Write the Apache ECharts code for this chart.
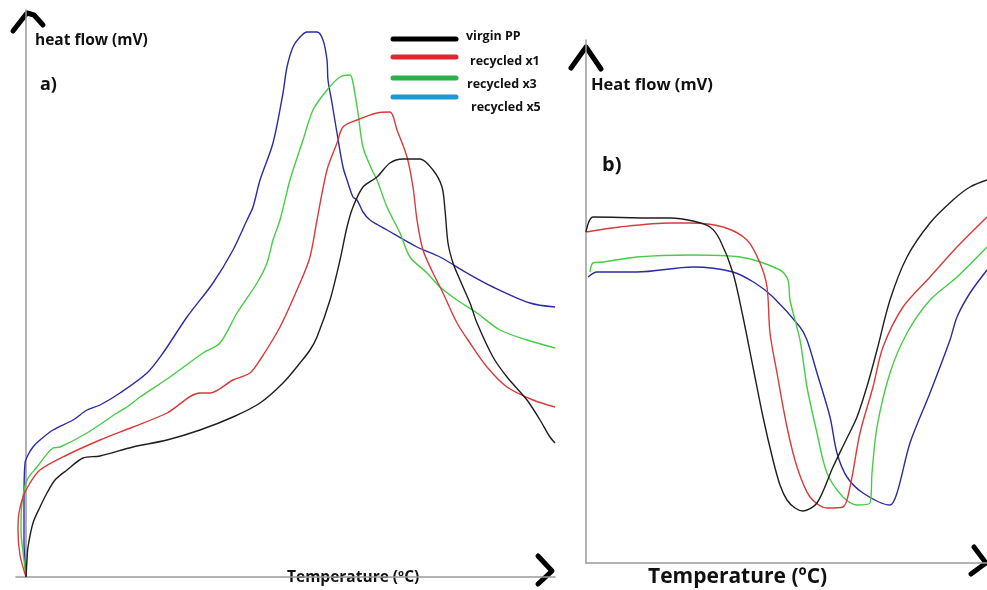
<!DOCTYPE html>
<html>
<head>
<meta charset="utf-8">
<script src="https://cdn.jsdelivr.net/npm/echarts@6/dist/echarts.min.js"></script>
<style>
  html, body { margin: 0; padding: 0; background: #fff; }
  #main { width: 987px; height: 590px; }
</style>
</head>
<body>
<div id="main"></div>
<script>
// DSC curves (arbitrary units, no ticks on the axes)
// a) heating / melting
var seriesNames = ['virgin PP', 'recycled x1', 'recycled x3', 'recycled x5']

var virginA = [[0,0],[1,17],[2,30],[7,54],[14,70],[21,84],[29,97],[41,107],[57,119],[74,121],[107,130],[141,137],[174,147],[207,160],[234,174],[257,194],[274,214],[284,227],[291,240],[304,277],[314,317],[321,350],[327,370],[337,390],[351,400],[364,414],[377,418],[394,418],[407,407],[416,390],[419,367],[422,334],[427,314],[434,297],[444,274],[451,254],[467,220],[481,200],[501,177],[514,157],[524,140],[529,134]]
var rec1A = [[0,0],[-6,22],[-8,47],[-7,64],[-3,80],[4,94],[14,107],[41,122],[74,137],[107,150],[141,164],[174,184],[184,184],[207,197],[224,204],[234,217],[254,250],[274,294],[284,320],[291,357],[301,407],[311,434],[317,450],[331,457],[351,464],[364,465],[371,447],[381,420],[387,390],[391,357],[397,327],[407,304],[417,284],[431,254],[444,234],[461,210],[481,190],[507,177],[529,170]]
var rec3A = [[0,0],[-2,17],[-5,47],[-4,74],[1,97],[11,110],[27,129],[34,130],[61,144],[91,164],[101,170],[114,180],[144,200],[177,224],[194,234],[211,264],[231,294],[241,314],[247,337],[254,357],[264,397],[277,437],[287,467],[301,487],[314,500],[324,502],[327,494],[332,464],[337,430],[346,407],[351,397],[361,370],[374,344],[384,320],[401,304],[414,290],[431,277],[451,264],[474,247],[501,237],[529,229]]
var rec5A = [[0,0],[-2,37],[-2,77],[-1,114],[2,122],[7,130],[14,137],[27,147],[47,157],[61,167],[74,172],[94,184],[121,204],[137,224],[161,260],[187,294],[207,327],[221,357],[227,370],[234,397],[247,434],[257,484],[261,510],[267,530],[274,540],[281,545],[291,545],[297,537],[301,517],[302,497],[306,474],[311,444],[317,410],[321,397],[327,380],[331,377],[337,365],[344,357],[361,347],[391,330],[414,320],[441,304],[467,290],[504,274],[529,270]]

// b) cooling / crystallisation
var virginB = [[0,331],[7,346],[67,345],[84,345],[107,342],[124,336],[134,323],[147,290],[157,246],[167,196],[177,146],[187,103],[194,78],[201,63],[209,55],[217,52],[231,60],[247,96],[259,121],[271,146],[282,180],[291,213],[304,263],[321,306],[344,340],[367,363],[384,376],[401,383]]
var rec1B = [[0,331],[34,336],[84,340],[104,340],[137,336],[161,323],[174,300],[181,276],[184,230],[191,190],[201,136],[211,96],[224,66],[241,55],[257,56],[264,76],[274,130],[287,176],[297,216],[317,256],[344,286],[371,316],[401,346]]
var rec3B = [[4,291],[7,300],[17,301],[51,306],[104,308],[154,306],[194,293],[202,283],[204,263],[214,223],[221,176],[231,130],[241,90],[257,66],[271,58],[284,60],[286,90],[291,136],[304,190],[321,230],[344,263],[371,286],[401,316]]
var rec5B = [[2,286],[11,291],[51,291],[107,296],[147,291],[169,280],[187,266],[214,236],[221,223],[231,190],[244,146],[251,110],[261,86],[277,70],[304,58],[311,70],[324,120],[344,170],[364,223],[371,246],[384,270],[401,293]]

var curveColors = ['#1e1e1e', '#d93a3a', '#46cc46', '#2b2ba3']
var legendColors = ['#000000', '#e3262e', '#2db04b', '#1c9ad6']

var chart = echarts.init(document.getElementById('main'))

var lineStyle = { color: '#9a9a9a', width: 1.5 }
function xAx(idx, min, max) {
    return { type: 'value', gridIndex: idx, min: min, max: max,
        axisLine: { show: true, onZero: false, lineStyle: lineStyle },
        axisTick: { show: false }, axisLabel: { show: false }, splitLine: { show: false } }
}
function yAx(idx, max) {
    // sits on x = 0 of its panel
    return { type: 'value', gridIndex: idx, min: 0, max: max,
        axisLine: { show: true, onZero: true, lineStyle: lineStyle },
        axisTick: { show: false }, axisLabel: { show: false }, splitLine: { show: false } }
}

var dataA = [virginA, rec1A, rec3A, rec5A]
var dataB = [virginB, rec1B, rec3B, rec5B]
var series = []
// draw blue first so black ends up on top like the original
for (var i = 3; i >= 0; i--) {
    series.push({ name: seriesNames[i], type: 'line', xAxisIndex: 0, yAxisIndex: 0, data: dataA[i],
        showSymbol: false, smooth: 0.3, lineStyle: { color: curveColors[i], width: 1.4 } })
    series.push({ name: seriesNames[i] + ' (b)', type: 'line', xAxisIndex: 1, yAxisIndex: 1, data: dataB[i],
        showSymbol: false, smooth: 0.3, lineStyle: { color: curveColors[i], width: 1.4 } })
}

function font(s) { return 'bold ' + s + 'px "Open Sans", Lato, sans-serif' }
function label(x, y, text, size) {
    return { type: 'text', x: x, y: y, style: { text: text, font: font(size), fill: '#111', align: 'left', verticalAlign: 'middle' } }
}
function arrow(pts) {
    return { type: 'polyline', shape: { points: pts }, style: { stroke: '#000', lineWidth: 5, lineCap: 'round', lineJoin: 'round', fill: null } }
}

var legendY = [39, 57, 78, 97]
var legendTextPos = [[466, 36], [470, 61], [467, 84], [471, 107]]
var graphics = [
    arrow([[13, 31], [27, 13], [34, 15], [43, 25]]),
    arrow([[538, 556], [552, 571], [538, 584]]),
    arrow([[571, 68], [586, 47], [601, 69]]),
    arrow([[974, 547], [986, 563], [971, 574]]),
    label(35, 41, 'heat flow (mV)', 15.5),
    label(40, 85, 'a)', 18),
    label(287, 578, 'Temperature (ºC)', 15.5),
    label(591, 85, 'Heat flow (mV)', 16.5),
    label(602, 165, 'b)', 20),
    label(648, 577, 'Temperature (ºC)', 21)
]
for (var k = 0; k < 4; k++) {
    graphics.push({ type: 'line', shape: { x1: 393, y1: legendY[k], x2: 456, y2: legendY[k] },
        style: { stroke: legendColors[k], lineWidth: 5, lineCap: 'round' } })
    graphics.push(label(legendTextPos[k][0], legendTextPos[k][1], seriesNames[k], 12.5))
}

chart.setOption({
    animation: false,
    backgroundColor: '#fff',
    grid: [
        { left: 16, right: 432, top: 10, bottom: 13 },
        { left: 586, right: 0, top: 40, bottom: 27 }
    ],
    xAxis: [xAx(0, -10, 529), xAx(1, 0, 401)],
    yAxis: [yAx(0, 567), yAx(1, 523)],
    series: series,
    graphic: graphics
})
</script>
</body>
</html>
